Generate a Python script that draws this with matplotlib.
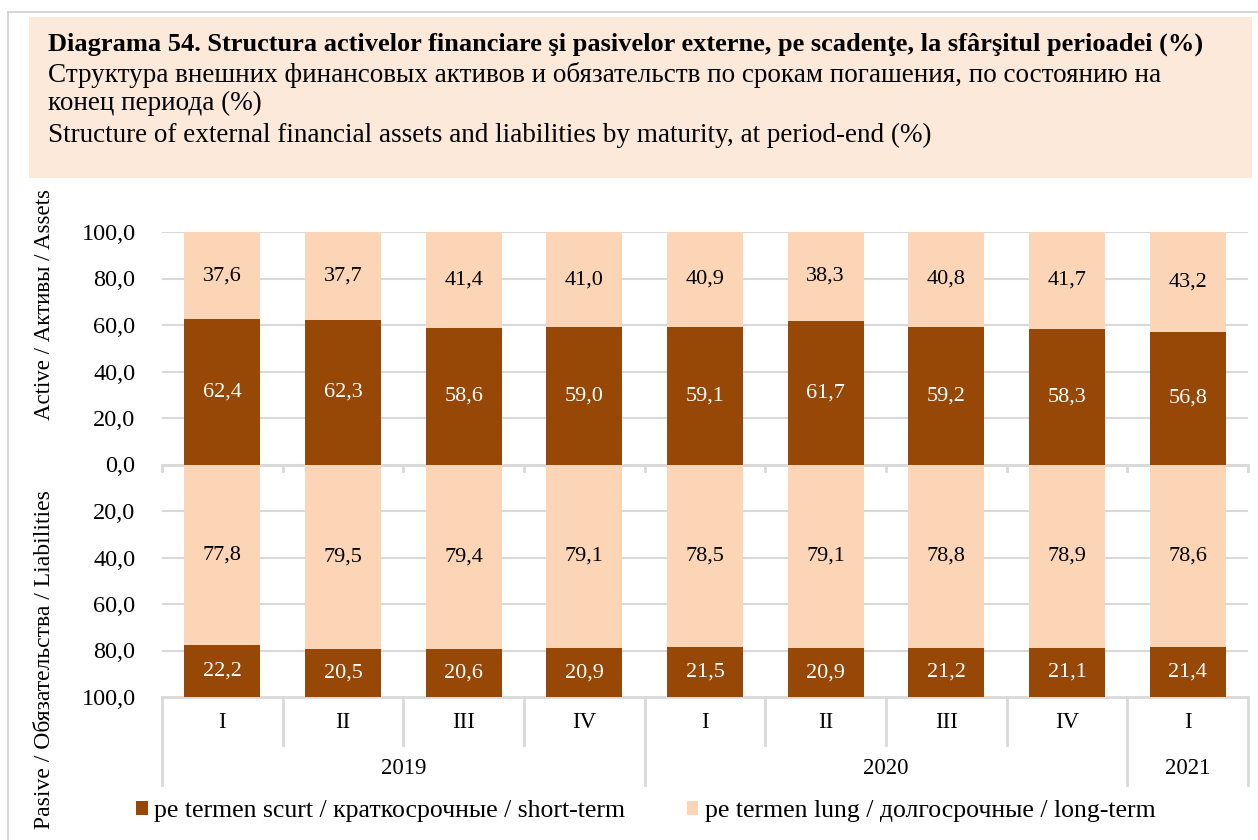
import matplotlib
matplotlib.use("Agg")
import matplotlib.pyplot as plt
from matplotlib.patches import Rectangle
from matplotlib.lines import Line2D

# data
quarters = ["I", "II", "III", "IV", "I", "II", "III", "IV", "I"]
years = ["2019", "2020", "2021"]
year_spans = [(0, 4), (4, 8), (8, 9)]
assets_short = [62.4, 62.3, 58.6, 59.0, 59.1, 61.7, 59.2, 58.3, 56.8]
assets_long = [37.6, 37.7, 41.4, 41.0, 40.9, 38.3, 40.8, 41.7, 43.2]
liab_short = [22.2, 20.5, 20.6, 20.9, 21.5, 20.9, 21.2, 21.1, 21.4]
liab_long = [77.8, 79.5, 79.4, 79.1, 78.5, 79.1, 78.8, 78.9, 78.6]
yticks = [-100, -80, -60, -40, -20, 0, 20, 40, 60, 80, 100]

DARK = "#974706"
LIGHT = "#FBD5B5"
BOX = "#FDE9D9"
GRID = "#D9D9D9"

plt.rcParams['font.family'] = ['Liberation Serif', 'DejaVu Serif']

W, H = 1258, 840
fig = plt.figure(figsize=(W / 100, H / 100), dpi=100)


def fx(px):
    return px / W


def fy(py):
    return 1 - py / H


# frame and title box
fig.add_artist(Line2D([fx(8), fx(8)], [fy(12), fy(840)], color="#D0D0D0", lw=1.2))
fig.add_artist(Line2D([fx(8), fx(1258)], [fy(12), fy(12)], color="#D0D0D0", lw=1.2))
fig.add_artist(Rectangle((fx(29), fy(178)), fx(1252 - 29), (178 - 17) / H,
                         facecolor=BOX, edgecolor="none"))
fig.text(fx(48), fy(44), "Diagrama 54. Structura activelor financiare şi pasivelor externe, pe scadenţe, la sfârşitul perioadei (%)",
         fontsize=19, fontweight="bold", va="center", ha="left")
fig.text(fx(48), fy(75), "Структура внешних финансовых активов и обязательств по срокам погашения, по состоянию на",
         fontsize=19.5, va="center", ha="left")
fig.text(fx(48), fy(103), "конец периода (%)", fontsize=19.5, va="center", ha="left")
fig.text(fx(48), fy(135), "Structure of external financial assets and liabilities by maturity, at period-end (%)",
         fontsize=19.5, va="center", ha="left")

# main axes
L, R, T, B = 162, 1248, 232, 697
ax = fig.add_axes([fx(L), fy(B), fx(R - L), (B - T) / H])
x = list(range(len(quarters)))
bw = 0.63

ax.bar(x, assets_short, bw, color=DARK, zorder=3, label="pe termen scurt / краткосрочные / short-term")
ax.bar(x, assets_long, bw, bottom=assets_short, color=LIGHT, zorder=3,
       label="pe termen lung / долгосрочные / long-term")
ax.bar(x, [-v for v in liab_long], bw, color=LIGHT, zorder=3)
ax.bar(x, [-v for v in liab_short], bw, bottom=[-v for v in liab_long], color=DARK, zorder=3)

for i in x:
    ax.text(i, assets_short[i] / 2, f"{assets_short[i]:.1f}".replace(".", ","),
            ha="center", va="center", color="white", fontsize=16, zorder=4)
    ax.text(i, assets_short[i] + assets_long[i] / 2, f"{assets_long[i]:.1f}".replace(".", ","),
            ha="center", va="center", color="black", fontsize=16, zorder=4)
    ax.text(i, -liab_long[i] / 2, f"{liab_long[i]:.1f}".replace(".", ","),
            ha="center", va="center", color="black", fontsize=16, zorder=4)
    ax.text(i, -liab_long[i] - liab_short[i] / 2, f"{liab_short[i]:.1f}".replace(".", ","),
            ha="center", va="center", color="white", fontsize=16, zorder=4)

ax.set_xlim(-0.5, len(quarters) - 0.5)
ax.set_ylim(-100, 100)
ax.set_yticks(yticks)
ax.set_yticklabels([f"{abs(v):.1f}".replace(".", ",") for v in yticks], fontsize=17.5)
ax.tick_params(axis="y", length=0, pad=19)
ax.set_xticks([])
for s in ax.spines.values():
    s.set_visible(False)
for v in yticks:
    if v == 0:
        ax.axhline(0, color=GRID, lw=2.2, zorder=2)
    elif v != -100:
        ax.axhline(v, color=GRID, lw=1.5, zorder=1)

# zero-line tick marks
for b in range(len(quarters) + 1):
    ax.plot([b - 0.5, b - 0.5], [0, -2.6], color=GRID, lw=2, zorder=2, clip_on=False)

# category axis below the chart
tr = ax.get_xaxis_transform()
ax.plot([-0.5, len(quarters) - 0.5], [0, 0], transform=tr, color=GRID, lw=2, clip_on=False)
q_end = -(745 - B) / (B - T)
y_end = -(785 - B) / (B - T)
year_edges = {s for s, e in year_spans} | {e for s, e in year_spans}
for b in range(len(quarters) + 1):
    end = y_end if b in year_edges else q_end
    ax.plot([b - 0.5, b - 0.5], [0, end], transform=tr, color=GRID, lw=2, clip_on=False)
for i, q in enumerate(quarters):
    ax.text(i, -(723 - B) / (B - T), q, transform=tr, ha="center", va="center", fontsize=16.5)
for (s, e), yr in zip(year_spans, years):
    ax.text((s + e - 1) / 2, -(768 - B) / (B - T), yr, transform=tr, ha="center", va="center", fontsize=16.5)

# axis titles
fig.text(fx(45), fy(305), "Active / Активы / Assets", rotation=90, ha="center", va="center", fontsize=16.5)
fig.text(fx(45), fy(660), "Pasive / Обязательства / Liabilities", rotation=90, ha="center", va="center", fontsize=17)

# legend
fig.legend(loc="center left", bbox_to_anchor=(fx(136), fy(811)), ncol=2, frameon=False,
           fontsize=18.5, handlelength=0.45, handleheight=0.45, handletextpad=0.25, columnspacing=2.4,
           borderaxespad=0, borderpad=0)

fig.savefig("out.png", dpi=100)
